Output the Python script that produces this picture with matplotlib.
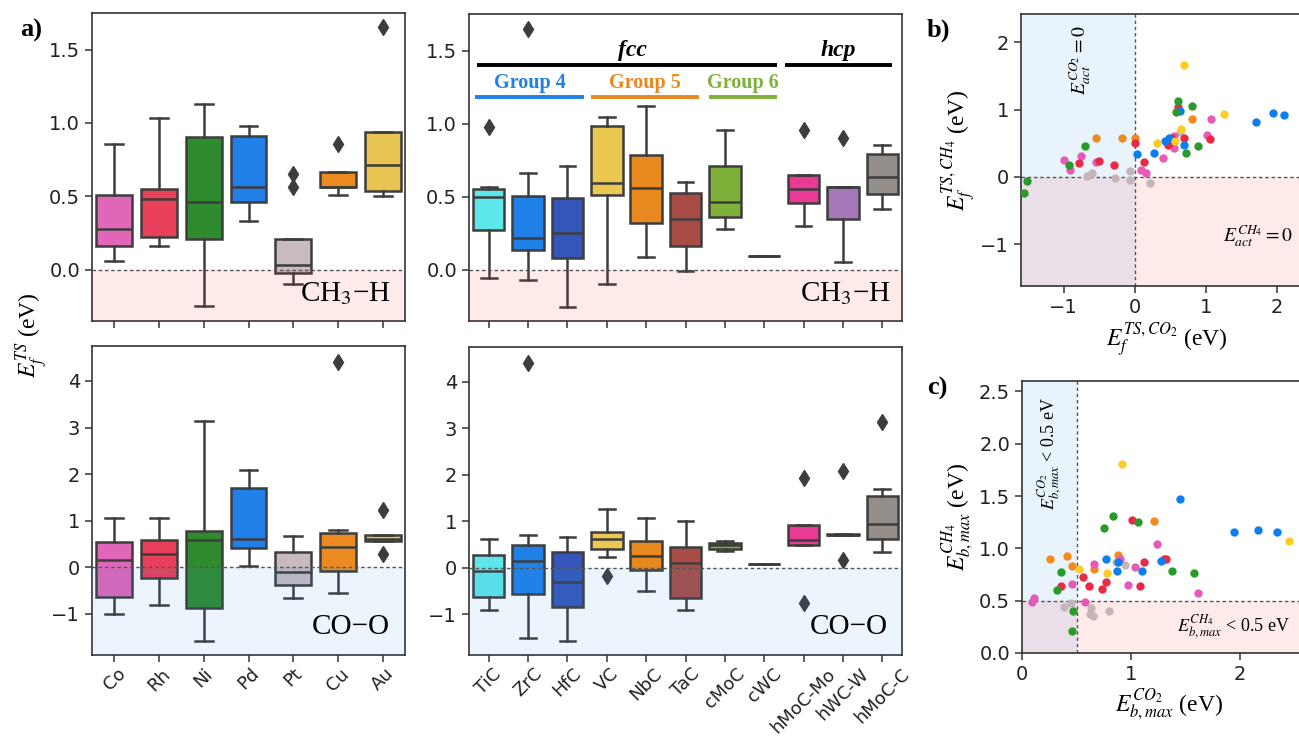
import matplotlib
matplotlib.use("Agg")
import matplotlib.pyplot as plt
import numpy as np

plt.rcParams['font.family'] = ['DejaVu Sans']
plt.rcParams['mathtext.fontset'] = 'stix'
plt.rcParams['axes.unicode_minus'] = True

SERIF = ['Liberation Serif', 'DejaVu Serif']

# ---------------- data: box statistics ----------------
metals = ['Co', 'Rh', 'Ni', 'Pd', 'Pt', 'Cu', 'Au']
metal_colors = ['#e066b8', '#e84058', '#2e8b2e', '#2080e8', '#c8babf', '#ec8a22', '#e8c452']

# (whislo, q1, med, q3, whishi, fliers)
ch3h_metals = [
    (0.057, 0.16, 0.28, 0.507, 0.86, []),
    (0.164, 0.223, 0.482, 0.552, 1.034, []),
    (-0.25, 0.209, 0.459, 0.907, 1.132, []),
    (0.332, 0.464, 0.564, 0.909, 0.982, []),
    (-0.095, -0.023, 0.03, 0.209, 0.209, [0.655, 0.564]),
    (0.507, 0.564, 0.564, 0.664, 0.664, [0.86]),
    (0.505, 0.536, 0.711, 0.936, 0.936, [1.652]),
]
coo_metals = [
    (-1.0, -0.644, 0.157, 0.551, 1.052, []),
    (-0.81, -0.229, 0.286, 0.594, 1.05, []),
    (-1.574, -0.88, 0.587, 0.78, 3.15, []),
    (0.03, 0.415, 0.61, 1.70, 2.08, []),
    (-0.665, -0.38, -0.10, 0.33, 0.673, []),
    (-0.55, -0.08, 0.43, 0.73, 0.80, [4.415]),
    (0.565, 0.565, 0.61, 0.694, 0.694, [1.23, 0.29]),
]

carbides = ['TiC', 'ZrC', 'HfC', 'VC', 'NbC', 'TaC', 'cMoC', 'cWC', 'hMoC-Mo', 'hWC-W', 'hMoC-C']
carbide_colors = ['#5ee7ea', '#1f80e8', '#3556bb', '#ebc850', '#e8891f', '#a84c45',
                  '#7fb03a', '#7f7f7f', '#ea3a95', '#a577b8', '#948e8a']
ch3h_carbides = [
    (-0.057, 0.273, 0.495, 0.555, 0.568, [0.977]),
    (-0.068, 0.136, 0.22, 0.505, 0.659, [1.648]),
    (-0.255, 0.08, 0.255, 0.489, 0.709, []),
    (-0.098, 0.511, 0.595, 0.982, 1.045, []),
    (0.086, 0.323, 0.561, 0.786, 1.123, []),
    (-0.011, 0.164, 0.348, 0.523, 0.602, []),
    (0.277, 0.364, 0.466, 0.711, 0.959, []),
    (0.095, 0.095, 0.095, 0.095, 0.095, []),
    (0.30, 0.459, 0.552, 0.648, 0.648, [0.955]),
    (0.055, 0.348, 0.564, 0.564, 0.564, [0.90]),
    (0.414, 0.518, 0.636, 0.791, 0.857, []),
]
coo_carbides = [
    (-0.91, -0.624, -0.065, 0.28, 0.61, []),
    (-1.505, -0.573, 0.15, 0.487, 0.70, [4.416]),
    (-1.577, -0.84, -0.30, 0.337, 0.667, []),
    (0.237, 0.394, 0.616, 0.76, 1.254, [-0.19]),
    (-0.50, -0.05, 0.25, 0.573, 1.075, []),
    (-0.91, -0.66, 0.093, 0.437, 1.01, []),
    (0.36, 0.41, 0.48, 0.53, 0.58, []),
    (0.086, 0.086, 0.086, 0.086, 0.086, []),
    (0.49, 0.49, 0.60, 0.908, 0.908, [1.935, -0.753]),
    (0.70, 0.70, 0.71, 0.725, 0.725, [2.086, 0.165]),
    (0.33, 0.617, 0.939, 1.548, 1.70, [3.14]),
]

# group annotations (x-range in category units, label, colour)
struct_groups = [(-0.30, 7.32, 'fcc'), (7.53, 10.24, 'hcp')]
family_groups = [(-0.34, 2.41, 'Group 4', '#2080e8'),
                 (2.60, 5.34, 'Group 5', '#e8891f'),
                 (5.60, 7.33, 'Group 6', '#7fb03a')]

# ---------------- data: scatter (b) ----------------
scatter_colors = {'Co': '#e85ab8', 'Rh': '#ea2a45', 'Ni': '#2a9a2a', 'Pd': '#0b7ff2',
                  'Pt': '#c4b5b8', 'Cu': '#f28a20', 'Au': '#ffcc22'}
b_x = {
    'Ni': [-1.561, -1.51, -0.919, -0.694, 0.609, 0.577, 0.811, 0.717, 0.895],
    'Co': [-0.989, -0.914, -0.750, -0.539, 0.089, 0.164, 0.398, 0.549, 0.549, 1.022, 1.069],
    'Rh': [-0.788, -0.506, -0.291, 0.0, 0.131, 0.469, 0.530, 0.609, 0.694, 1.055],
    'Cu': [-0.539, -0.178, 0.009, 0.806],
    'Pd': [0.028, 0.267, 0.431, 0.483, 0.633, 0.694, 1.702, 1.946, 2.096],
    'Pt': [-0.67, -0.60, -0.272, -0.07, -0.07, 0.22, 0.633],
    'Au': [0.694, 0.319, 0.656, 1.252, 0.563],
}
b_y = {
    'Ni': [-0.244, -0.054, 0.171, 0.454, 1.127, 0.961, 1.059, 0.351, 0.463],
    'Co': [0.259, 0.102, 0.307, 0.22, 0.098, 0.063, 0.288, 0.429, 0.61, 0.62, 0.863],
    'Rh': [0.20, 0.244, 0.171, 0.502, 0.229, 0.478, 0.571, 1.039, 0.571, 0.561],
    'Cu': [0.571, 0.571, 0.571, 0.863],
    'Pd': [0.337, 0.356, 0.537, 0.571, 0.985, 0.473, 0.82, 0.951, 0.912],
    'Pt': [0.01, 0.063, -0.01, 0.088, -0.049, -0.088, 0.668],
    'Au': [1.654, 0.502, 0.717, 0.937, 0.532],
}

# ---------------- data: scatter (c) ----------------
c_x = {
    'Au': [0.919, 0.521, 0.781, 2.453],
    'Pd': [1.449, 1.945, 2.162, 2.337, 0.775, 0.867, 1.10, 1.271, 0.882],
    'Cu': [0.254, 0.413, 0.459, 0.662, 0.882, 1.213],
    'Ni': [0.753, 0.839, 1.063, 0.358, 0.322, 0.469, 0.459, 1.378, 1.577],
    'Rh': [1.011, 0.355, 0.564, 0.613, 0.738, 0.769, 1.081, 1.118, 1.305, 1.323],
    'Co': [0.107, 0.092, 0.459, 0.662, 0.897, 1.035, 0.968, 1.243, 0.576, 1.611],
    'Pt': [0.383, 0.453, 0.631, 0.628, 0.652, 0.796, 0.858, 0.949],
}
c_y = {
    'Au': [1.804, 0.80, 0.762, 1.07],
    'Pd': [1.468, 1.153, 1.172, 1.16, 0.899, 0.785, 0.788, 0.88, 0.874],
    'Cu': [0.899, 0.931, 0.829, 0.804, 0.937, 1.261],
    'Ni': [1.191, 1.312, 1.252, 0.778, 0.60, 0.403, 0.213, 0.785, 0.766],
    'Rh': [1.267, 0.639, 0.724, 0.639, 0.607, 0.683, 0.645, 0.867, 0.899, 0.902],
    'Co': [0.525, 0.486, 0.658, 0.848, 0.899, 0.82, 0.651, 1.039, 0.486, 0.578],
    'Pt': [0.435, 0.476, 0.429, 0.375, 0.349, 0.397, 0.867, 0.842],
}
scatter_order = ['Pt', 'Cu', 'Co', 'Rh', 'Pd', 'Ni', 'Au']

# ---------------- figure ----------------
W, H = 1299, 737
fig = plt.figure(figsize=(W / 100, H / 100), dpi=100)


def px_axes(left, top, right, bottom):
    return fig.add_axes([left / W, 1 - bottom / H, (right - left) / W, (bottom - top) / H])


EDGE = '#3d3d3d'
TICKSIZE = 14


def draw_boxes(ax, stats_list, colors, labels):
    stats = []
    for (lo, q1, med, q3, hi, fl) in stats_list:
        stats.append(dict(whislo=lo, q1=q1, med=med, q3=q3, whishi=hi, fliers=fl))
    art = ax.bxp(stats, positions=np.arange(len(stats)), widths=0.8, patch_artist=True,
                 showfliers=True, capwidths=0.4,
                 boxprops=dict(edgecolor=EDGE, linewidth=1.8),
                 whiskerprops=dict(color=EDGE, linewidth=1.8),
                 capprops=dict(color=EDGE, linewidth=1.8),
                 medianprops=dict(color=EDGE, linewidth=1.8),
                 flierprops=dict(marker='d', markerfacecolor=EDGE, markeredgecolor=EDGE,
                                 markersize=8, linestyle='none'),
                 manage_ticks=False)
    for patch, col in zip(art['boxes'], colors):
        patch.set_facecolor(col)
    ax.set_xticks(np.arange(len(labels)))
    ax.set_xlim(-0.5, len(labels) - 0.5)


def style_axes(ax):
    for s in ax.spines.values():
        s.set_color('#333333')
        s.set_linewidth(1.2)
    ax.tick_params(axis='both', length=5, width=1.1, color='#333333', labelsize=TICKSIZE,
                   labelcolor='#222222')


ax_tl = px_axes(92, 13, 405, 321)
ax_bl = px_axes(92, 346, 405, 655)
ax_tm = px_axes(469, 14, 902, 321)
ax_bm = px_axes(469, 347, 902, 655)

for ax, data, cols, labs, kind in [
    (ax_tl, ch3h_metals, metal_colors, metals, 'ch'),
    (ax_bl, coo_metals, metal_colors, metals, 'co'),
    (ax_tm, ch3h_carbides, carbide_colors, carbides, 'ch'),
    (ax_bm, coo_carbides, carbide_colors, carbides, 'co'),
]:
    draw_boxes(ax, data, cols, labs)
    style_axes(ax)
    if kind == 'ch':
        ax.set_ylim(-0.35, 1.75)
        ax.set_yticks([0.0, 0.5, 1.0, 1.5])
        ax.set_yticklabels(['0.0', '0.5', '1.0', '1.5'])
        ax.axhspan(-0.35, 0, color='#ff2020', alpha=0.09, lw=0, zorder=3)
        ax.set_xticklabels([])
        ax.text(0.975 if ax is ax_tm else 0.955, 0.045, 'CH$_3$−H', transform=ax.transAxes,
                ha='right', va='bottom', fontsize=21, family=SERIF, zorder=5)
    else:
        ax.set_ylim(-1.88, 4.75)
        ax.set_yticks([-1, 0, 1, 2, 3, 4])
        ax.axhspan(-1.88, 0, color='#2f8fe6', alpha=0.09, lw=0, zorder=3)
        ax.set_xticklabels(labs, rotation=45, ha='center', fontsize=13)
        ax.tick_params(axis='x', pad=2)
        ax.text(0.968 if ax is ax_bm else 0.952, 0.05, 'CO−O', transform=ax.transAxes,
                ha='right', va='bottom', fontsize=21, family=SERIF, zorder=5)
    ax.axhline(0, color='#555555', lw=1.0, ls=(0, (2.5, 2)), zorder=4)

# group annotations on the carbide CH3-H panel
for x0, x1, lab in struct_groups:
    ax_tm.plot([x0, x1], [1.398, 1.398], color='black', lw=2.8, solid_capstyle='butt',
               clip_on=False, zorder=6)
    ax_tm.text((x0 + x1) / 2 + (0.0 if lab == 'hcp' else 0.15), 1.43, lab, ha='center', va='bottom',
               fontsize=17, family=SERIF, fontweight='bold', style='italic', zorder=6)
for x0, x1, lab, col in family_groups:
    ax_tm.plot([x0, x1], [1.18, 1.18], color=col, lw=2.8, solid_capstyle='butt', zorder=6)
    ax_tm.text((x0 + x1) / 2, 1.21, lab, ha='center', va='bottom', color=col,
               fontsize=14.5, family=SERIF, fontweight='bold', zorder=6)

fig.text(32 / W, 1 - 335 / H, r'$E_f^{TS}$ (eV)', rotation=90, ha='center', va='center',
         fontsize=17, family=SERIF)
fig.text(20 / W, 1 - 30 / H, 'a)', ha='left', va='center', fontsize=19, family=SERIF,
         fontweight='bold')

# ---------------- panel b ----------------
bx0, bx1 = -1.6, 2.5
ax_b = px_axes(1021, 14, 1021 + (bx1 - bx0) * 71.1, 286)
ax_b.set_xlim(bx0, bx1)
ax_b.set_ylim(-1.615, 2.415)
ax_b.axvspan(bx0, 0, color='#2f8fe6', alpha=0.10, lw=0, zorder=0)
ax_b.axhspan(-1.615, 0, color='#ff2020', alpha=0.09, lw=0, zorder=0)
ax_b.axhline(0, color='#555555', lw=1.0, ls=(0, (2.5, 2)), zorder=1)
ax_b.axvline(0, color='#555555', lw=1.0, ls=(0, (2.5, 2)), zorder=1)
for m in scatter_order:
    ax_b.scatter(b_x[m], b_y[m], s=36, color=scatter_colors[m], lw=0, zorder=3)
ax_b.set_xticks([-1, 0, 1, 2])
ax_b.set_yticks([-1, 0, 1, 2])
style_axes(ax_b)
ax_b.set_xlabel(r'$E_f^{TS,CO_2}$ (eV)', fontsize=17, family=SERIF, labelpad=2)
ax_b.set_ylabel(r'$E_f^{TS,CH_4}$ (eV)', fontsize=17, family=SERIF, labelpad=2)
ax_b.text(-0.77, 1.73, r'$E_{act}^{CO_2} = 0$', rotation=90, ha='center', va='center',
          fontsize=14, family=SERIF)
ax_b.text(1.73, -0.88, r'$E_{act}^{CH_4} = 0$', ha='center', va='center',
          fontsize=14, family=SERIF)
fig.text(927 / W, 1 - 30 / H, 'b)', ha='left', va='center', fontsize=19, family=SERIF,
         fontweight='bold')

# ---------------- panel c ----------------
cx0, cx1 = 0.0, 2.7
ax_c = px_axes(1022, 381, 1022 + (cx1 - cx0) * 109, 653)
ax_c.set_xlim(cx0, cx1)
ax_c.set_ylim(0, 2.6)
ax_c.axvspan(cx0, 0.5, color='#2f8fe6', alpha=0.10, lw=0, zorder=0)
ax_c.axhspan(0, 0.5, color='#ff2020', alpha=0.09, lw=0, zorder=0)
ax_c.axhline(0.5, color='#555555', lw=1.0, ls=(0, (2.5, 2)), zorder=1)
ax_c.axvline(0.5, color='#555555', lw=1.0, ls=(0, (2.5, 2)), zorder=1)
for m in scatter_order:
    ax_c.scatter(c_x[m], c_y[m], s=36, color=scatter_colors[m], lw=0, zorder=3)
ax_c.set_xticks([0, 1, 2])
ax_c.set_yticks([0, 0.5, 1.0, 1.5, 2.0, 2.5])
ax_c.set_yticklabels(['0.0', '0.5', '1.0', '1.5', '2.0', '2.5'])
style_axes(ax_c)
ax_c.set_xlabel(r'$E_{b,max}^{CO_2}$ (eV)', fontsize=17, family=SERIF, labelpad=2)
ax_c.set_ylabel(r'$E_{b,max}^{CH_4}$ (eV)', fontsize=17, family=SERIF, labelpad=2)
ax_c.text(0.257, 1.91, r'$E_{b,max}^{CO_2}$ < 0.5 eV', rotation=90, ha='center', va='center',
          fontsize=13, family=SERIF)
ax_c.text(1.94, 0.25, r'$E_{b,max}^{CH_4}$ < 0.5 eV', ha='center', va='center',
          fontsize=13, family=SERIF)
fig.text(927 / W, 1 - 388 / H, 'c)', ha='left', va='center', fontsize=19, family=SERIF,
         fontweight='bold')

fig.savefig('out.png', dpi=100)
